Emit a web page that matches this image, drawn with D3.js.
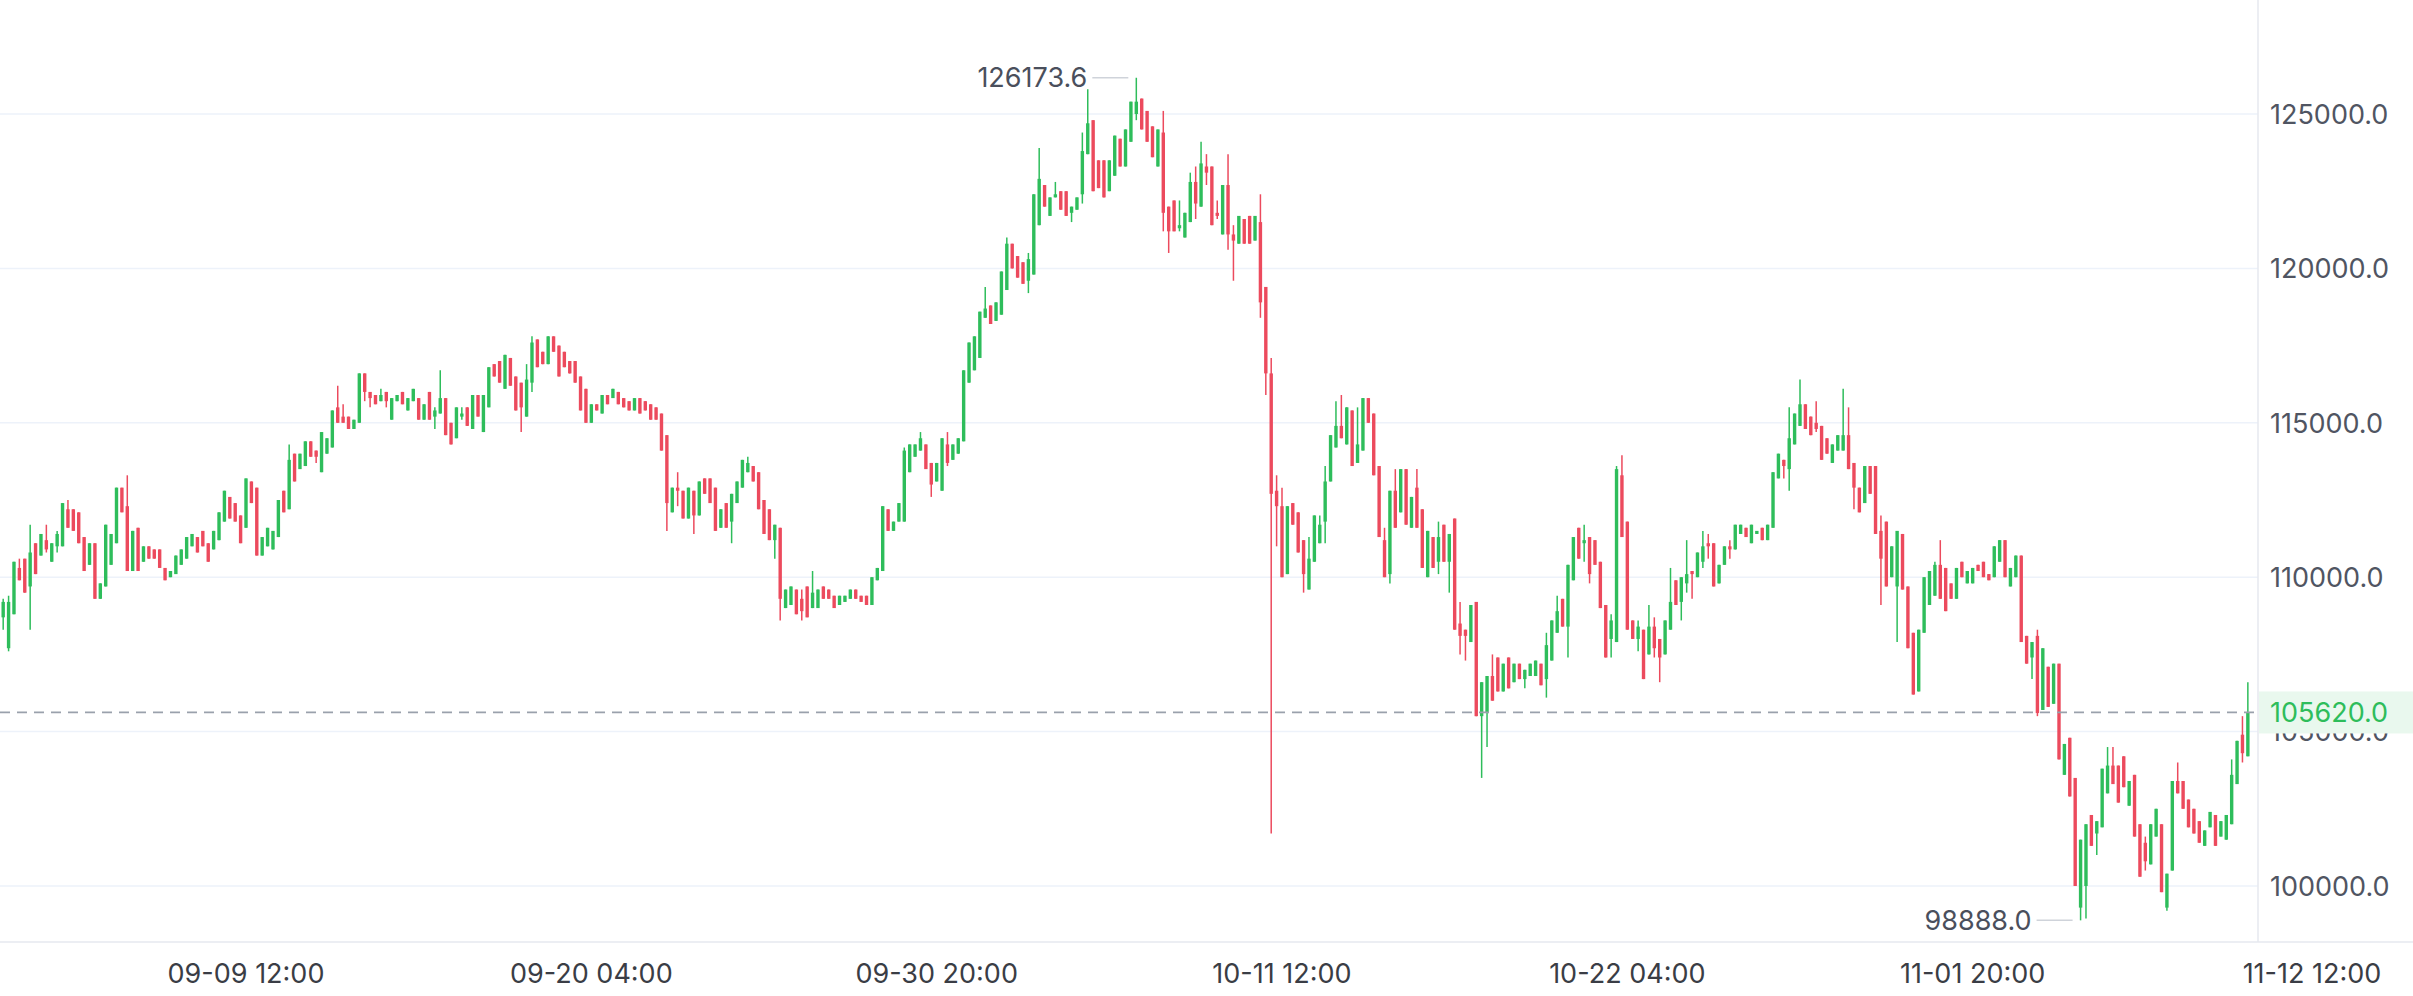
<!DOCTYPE html>
<html><head><meta charset="utf-8">
<script src="https://cdn.jsdelivr.net/npm/d3@7"></script>
<style>html,body{margin:0;padding:0;background:#fff;}svg{display:block;font-family:Inter,Roboto,"Noto Sans",sans-serif;}</style>
</head><body><svg id="c" width="2413" height="996"></svg>
<script>
// 4h candles starting 2025-09-02 00:00, values in hundreds of USD: [open, close, high?, low?]
const candlesHundreds = [
[1087,1092,1093,1083],[1077,1092,1094,1076],[1088,1105],[1103,1099,1106],[1106,1095],[1097,1108,1117,1083],[1111,1101],[1107,1114],[1112,1109,1117,1108],[1105,1111],
[1110,1114,1115,1108],[1110,1124],[1122,1116,1125],[1122,1115],[1121,1111],[1113,1102],[1104,1111],[1111,1093],[1093,1098],[1097,1117],
[1104,1114],[1111,1129],[1129,1121],[1123,1102,1133],[1102,1115],[1116,1102],[1105,1110],[1110,1106],[1109,1106],[1109,1103],
[1103,1099],[1100,1102],[1101,1107],[1104,1109],[1106,1113],[1110,1114],[1113,1108],[1115,1110],[1111,1105],[1109,1115],
[1112,1121],[1118,1128],[1126,1119],[1124,1118],[1120,1111],[1116,1132],[1131,1124],[1129,1107],[1107,1113],[1110,1116],
[1109,1115],[1113,1125],[1128,1121],[1122,1138,1143],[1140,1131],[1135,1140],[1136,1144],[1144,1139],[1141,1139,1141,1137],[1134,1147],
[1140,1145],[1142,1154],[1155,1150,1162],[1152,1150,1156],[1152,1148],[1148,1151],[1150,1166],[1166,1160,1166,1157],[1160,1158,1160,1155],[1159,1156],
[1157,1159,1161],[1160,1157,1160,1155],[1151,1158],[1157,1159],[1160,1156],[1154,1158],[1157,1161],[1158,1151],[1151,1156],[1160,1151],
[1152,1154,1155,1148],[1153,1158,1167],[1158,1146],[1150,1143],[1145,1155],[1152,1153,1155,1151],[1155,1149],[1148,1159],[1159,1152],[1147,1159],
[1155,1168],[1169,1165],[1170,1163],[1161,1172],[1171,1162],[1165,1154],[1163,1155,1163,1147],[1152,1164,1169],[1163,1176,1178,1160],[1177,1168],
[1173,1169],[1169,1178],[1178,1173],[1175,1165],[1173,1168],[1170,1166],[1170,1163],[1165,1154],[1161,1150],[1150,1156],
[1156,1154],[1153,1159],[1159,1156],[1158,1161],[1160,1156],[1158,1155],[1157,1154],[1154,1158],[1158,1153],[1157,1154],
[1156,1151],[1155,1151],[1153,1141],[1146,1124,1146,1115],[1121,1129],[1129,1128,1134,1123],[1128,1119],[1119,1129],[1128,1120,1128,1114],[1120,1131],
[1132,1127],[1132,1124],[1129,1115],[1116,1122],[1124,1116],[1118,1127,1127,1111],[1124,1131],[1129,1138],[1134,1137,1139],[1136,1131],
[1134,1122],[1125,1114],[1122,1112],[1112,1117,1117,1106],[1116,1093,1116,1086],[1090,1096],[1091,1097],[1096,1088],[1093,1089,1096,1086],[1097,1087],
[1090,1095,1102],[1090,1096],[1097,1093],[1096,1093],[1094,1090],[1091,1094],[1092,1094],[1093,1096],[1096,1093],[1094,1092],
[1094,1091],[1091,1100],[1099,1103],[1102,1123],[1122,1115],[1115,1118],[1118,1124],[1118,1141,1142],[1134,1143],[1139,1143],
[1141,1145,1147],[1143,1135],[1137,1130,1137,1126],[1131,1137],[1128,1145],[1143,1137,1147,1136],[1138,1143],[1140,1145],[1144,1167],[1163,1176],
[1167,1178],[1171,1186],[1184,1187,1194],[1188,1182],[1183,1189],[1185,1199],[1193,1208,1210],[1208,1200],[1204,1197],[1202,1195],
[1196,1203,1205,1192],[1198,1224],[1214,1229,1239],[1227,1220],[1217,1223],[1223,1224,1228],[1225,1219],[1225,1217],[1218,1220,1220,1215],[1219,1223],
[1224,1238,1244,1221],[1237,1247,1258],[1248,1225],[1235,1226],[1235,1223],[1225,1235],[1230,1243],[1242,1233],[1233,1245],[1241,1254],
[1250,1254,1261.736,1248],[1255,1245],[1251,1241],[1246,1236],[1233,1245],[1244,1218,1251,1212],[1220,1212,1220,1205],[1222,1212],[1213,1214,1222,1212],[1210,1218],
[1215,1228,1231],[1228,1221,1233,1216],[1220,1234,1241],[1233,1231,1237,1227],[1233,1214],[1218,1217,1222,1216],[1211,1227],[1227,1211,1237,1206],[1211,1209,1214,1196],[1208,1217],
[1216,1208],[1217,1208],[1209,1217],[1215,1189,1224,1184],[1194,1166,1194,1159],[1166,1127,1171,1017],[1128,1123,1133,1110],[1123,1100,1129],[1101,1123],[1124,1117],
[1121,1108],[1112,1101,1112,1095],[1096,1106,1113],[1105,1120],[1111,1117,1120],[1118,1131,1136,1111],[1131,1146],[1142,1149,1157],[1149,1145,1159],[1143,1155],
[1154,1136],[1137,1143,1155],[1141,1158],[1158,1150],[1153,1133],[1136,1113],[1112,1100,1116],[1101,1128,1128,1098],[1128,1116,1135],[1121,1135],
[1135,1117],[1116,1126],[1129,1116,1135],[1122,1103],[1100,1115],[1113,1103],[1105,1113,1118,1101],[1117,1105],[1105,1114,1114,1095],[1119,1083],
[1085,1081,1092,1075],[1083,1081,1083,1073],[1079,1091],[1092,1055],[1055,1066,1066,1035],[1056,1068,1068,1045],[1068,1060,1075],[1074,1063],[1063,1072],[1074,1064],
[1066,1072],[1072,1067],[1067,1070,1070,1064],[1068,1072],[1068,1073],[1072,1065],[1067,1078,1082,1061],[1073,1086],[1082,1089,1094],[1093,1084],
[1084,1104,1104,1074],[1099,1113],[1116,1106],[1111,1112,1117,1105],[1113,1101,1113,1098],[1112,1104],[1105,1090],[1091,1074],[1080,1086,1088,1074],[1079,1135,1136],
[1133,1113,1139.5],[1118,1083],[1086,1080],[1080,1084,1086,1076],[1083,1067],[1075,1084,1091],[1084,1077,1087,1074],[1080,1074,1080,1066],[1075,1086],[1083,1092,1103],
[1099,1091],[1092,1100,1100,1086],[1098,1101,1112,1095],[1102,1101,1102,1093],[1100,1108],[1105,1110,1115,1103],[1111,1110,1114,1106],[1111,1097],[1098,1104],[1104,1110],
[1110,1109,1112,1106],[1109,1117],[1114,1117],[1116,1113],[1111,1117],[1114,1115],[1116,1112],[1112,1117],[1116,1134],[1132,1140],
[1138,1136,1138,1132],[1135,1145,1155,1128],[1143,1153],[1149,1156,1164],[1156,1148],[1152,1146],[1150,1148,1157,1147],[1149,1138],[1145,1140],[1137,1143],
[1141,1146],[1141,1146,1161],[1146,1135,1155],[1137,1129,1137,1122],[1129,1121],[1124,1136],[1136,1127],[1136,1114],[1115,1106,1120,1091],[1118,1097],
[1100,1110],[1097,1115,1115,1079],[1114,1096],[1097,1077],[1082,1062],[1063,1083],[1082,1100],[1091,1102],[1094,1104,1105],[1104,1093,1112],
[1103,1089],[1098,1093],[1093,1103],[1105,1100],[1098,1102],[1098,1103],[1104,1102],[1105,1100],[1101,1099],[1100,1110],
[1105,1112],[1112,1100],[1097,1103],[1100,1107],[1107,1079],[1081,1072],[1074,1079,1079,1067],[1081,1056,1083,1055],[1057,1077],[1071,1058],
[1059,1072],[1072,1041],[1036,1046],[1048,1029],[1035,1000],[993,1015,1015,988.88],[1000,1020,1020,989.5],[1023,1013],[1017,1021,1021,1010],[1019,1038],
[1030,1039,1045],[1039,1033,1045],[1039,1027],[1042,1032],[1026,1034],[1036,1016],[1020,1003],[1014,1008,1016,1005],[1007,1020],[1016,1025],
[1020,998],[993,1004,1004,992],[1005,1034],[1034,1030,1040],[1034,1025],[1028,1019],[1025,1017],[1021,1014],[1013,1018],[1019,1024],
[1023,1013],[1016,1021],[1015,1023],[1020,1036,1041],[1033,1047],[1049,1043,1055,1040],[1042,1056.2,1066]
];
const yTicks = [100000,105000,110000,115000,120000,125000];
const timeLabels = ["09-09 12:00","09-20 04:00","09-30 20:00","10-11 12:00","10-22 04:00","11-01 20:00","11-12 12:00"];
const timeLabelIndex = [45,109,173,237,301,365,429];
const lastPrice = 105620.0;
const maxLabel = "126173.6", minLabel = "98888.0";

const candles = candlesHundreds.map((d,i)=>{
  const o=d[0]*100,c=d[1]*100;
  const h=(d[2]!==undefined?d[2]:Math.max(d[0],d[1]))*100;
  const l=(d[3]!==undefined?d[3]:Math.min(d[0],d[1]))*100;
  return {i,o,c,h:Math.max(h,o,c),l:Math.min(l,o,c)};
});

const svg=d3.select("#c");
const plotRight=2258, plotBottom=942;
const FS=27;
const x=d3.scaleLinear().domain([45,237]).range([246,1282]);
const y=d3.scaleLinear().domain([100000,125000]).range([886,114]);
const GREEN="#2ebd5b", RED="#ec4a5d";

svg.append("g").selectAll("line").data(yTicks).join("line")
  .attr("x1",0).attr("x2",plotRight).attr("y1",d=>y(d)).attr("y2",d=>y(d))
  .attr("stroke","#edf2fa").attr("stroke-width",1.5);
svg.append("line").attr("x1",plotRight).attr("x2",plotRight).attr("y1",0).attr("y2",plotBottom).attr("stroke","#e6e9ef").attr("stroke-width",1.5);
svg.append("line").attr("x1",0).attr("x2",2413).attr("y1",plotBottom).attr("y2",plotBottom).attr("stroke","#e6e9ef").attr("stroke-width",1.5);

svg.append("g").selectAll("text").data(yTicks).join("text")
  .attr("x",2270).attr("y",d=>y(d)).attr("dy","0.36em")
  .attr("font-size",FS).attr("fill","#505562").text(d=>d.toFixed(1));

svg.append("g").selectAll("text").data(timeLabels).join("text")
  .attr("x",(d,i)=>Math.min(x(timeLabelIndex[i]),2312)).attr("y",983).attr("text-anchor","middle")
  .attr("font-size",FS).attr("fill","#3a3d45").text(d=>d);

const g=svg.append("g");
g.selectAll("line.w").data(candles).join("line").attr("class","w")
  .attr("x1",d=>x(d.i)).attr("x2",d=>x(d.i)).attr("y1",d=>y(d.h)).attr("y2",d=>y(d.l))
  .attr("stroke",d=>d.c>=d.o?GREEN:RED).attr("stroke-width",1.5);
g.selectAll("rect").data(candles).join("rect")
  .attr("x",d=>x(d.i)-1.7).attr("width",3.4)
  .attr("y",d=>y(Math.max(d.o,d.c))).attr("height",d=>Math.max(1.5,Math.abs(y(d.o)-y(d.c))))
  .attr("fill",d=>d.c>=d.o?GREEN:RED);

svg.append("line").attr("x1",0).attr("x2",plotRight).attr("y1",y(lastPrice)).attr("y2",y(lastPrice))
  .attr("stroke","#9aa1ac").attr("stroke-width",1.8).attr("stroke-dasharray","10,7");
svg.append("rect").attr("x",plotRight+1).attr("y",y(lastPrice)-21).attr("width",2413-plotRight).attr("height",42).attr("fill","#e9f8ee");
svg.append("text").attr("x",2270).attr("y",y(lastPrice)).attr("dy","0.36em").attr("font-size",FS).attr("fill",GREEN).text(lastPrice.toFixed(1));

const maxC=candles.reduce((a,b)=>b.h>a.h?b:a), minC=candles.reduce((a,b)=>b.l<a.l?b:a);
[[maxC,maxC.h,maxLabel],[minC,minC.l,minLabel]].forEach(([c,v,t])=>{
  const cx=x(c.i), cy=y(v);
  svg.append("line").attr("x1",cx-44).attr("x2",cx-8).attr("y1",cy).attr("y2",cy).attr("stroke","#cfd3da").attr("stroke-width",1.5);
  svg.append("text").attr("x",cx-49).attr("y",cy).attr("dy","0.36em").attr("text-anchor","end").attr("font-size",FS).attr("fill","#4a4f5c").text(t);
});
</script></body></html>
